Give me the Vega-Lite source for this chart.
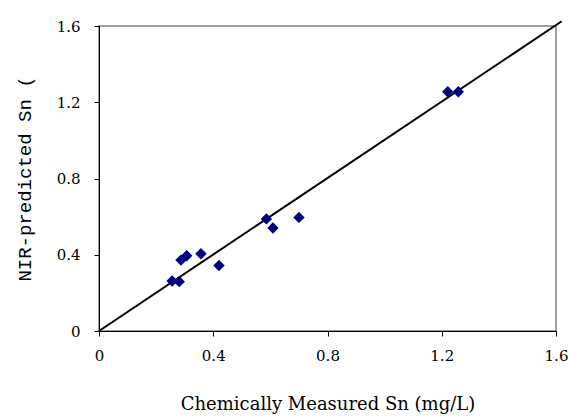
{
  "$schema": "https://vega.github.io/schema/vega-lite/v6.json",
  "width": 457,
  "height": 305,
  "autosize": {"type": "none"},
  "padding": {"left": 99, "top": 26, "right": 22, "bottom": 87},
  "background": "white",
  "config": {
    "view": {"stroke": "#808080", "strokeWidth": 1.5},
    "axis": {"grid": false, "domainColor": "black", "tickColor": "black", "labelColor": "black", "titleColor": "black", "labelFont": "DejaVu Serif", "labelFontSize": 15, "titleFontWeight": "normal"}
  },
  "datasets": {
    "points": [
      {"measured": 0.256, "predicted": 0.262},
      {"measured": 0.281, "predicted": 0.259},
      {"measured": 0.287, "predicted": 0.372},
      {"measured": 0.307, "predicted": 0.395},
      {"measured": 0.357, "predicted": 0.405},
      {"measured": 0.420, "predicted": 0.344},
      {"measured": 0.586, "predicted": 0.588},
      {"measured": 0.609, "predicted": 0.540},
      {"measured": 0.700, "predicted": 0.596},
      {"measured": 1.221, "predicted": 1.255},
      {"measured": 1.258, "predicted": 1.255}
    ],
    "line": [
      {"measured": 0, "predicted": 0},
      {"measured": 1.62, "predicted": 1.625}
    ]
  },
  "layer": [
    {
      "data": {"name": "line"},
      "mark": {"type": "line", "color": "black", "strokeWidth": 2, "clip": false},
      "encoding": {
        "x": {"field": "measured", "type": "quantitative"},
        "y": {"field": "predicted", "type": "quantitative"}
      }
    },
    {
      "data": {"name": "points"},
      "mark": {"type": "point", "shape": "diamond", "filled": true, "color": "#000080", "opacity": 1, "size": 130},
      "encoding": {
        "x": {
          "field": "measured", "type": "quantitative",
          "scale": {"domain": [0, 1.6], "nice": false, "zero": true},
          "axis": {"values": [0, 0.4, 0.8, 1.2, 1.6], "format": "~g", "title": "Chemically Measured Sn (mg/L)", "titleFont": "DejaVu Serif", "titleFontSize": 18, "labelPadding": 12, "tickSize": 5, "titlePadding": 32, "labelFlush": false}
        },
        "y": {
          "field": "predicted", "type": "quantitative",
          "scale": {"domain": [0, 1.6], "nice": false, "zero": true},
          "axis": {"values": [0, 0.4, 0.8, 1.2, 1.6], "format": "~g", "title": "NIR-predicted Sn (", "titleFont": "Liberation Mono", "titleFontSize": 19, "labelPadding": 14, "tickSize": 5, "titlePadding": 22, "labelFlush": false}
        }
      }
    }
  ]
}
